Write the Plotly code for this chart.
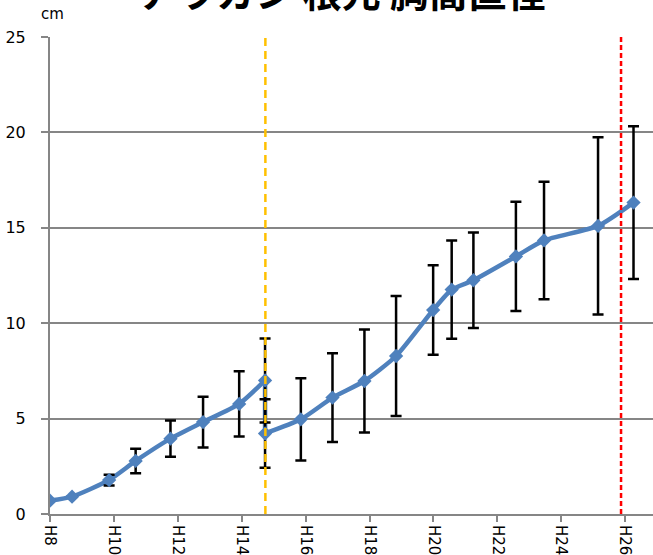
import plotly.graph_objects as go

# Measurement periods (Heisei year, fractional) and mean diameter (cm) with ± error
years = [8.00, 8.69, 9.85, 10.68, 11.77, 12.79, 13.92, 14.73, 14.73, 15.85, 16.84,
         17.84, 18.83, 19.99, 20.57, 21.25, 22.58, 23.46, 25.15, 26.26]
diameter = [0.70, 0.91, 1.78, 2.78, 3.95, 4.82, 5.77, 7.00, 4.22, 4.96, 6.10,
            6.97, 8.28, 10.69, 11.76, 12.25, 13.50, 14.34, 15.10, 16.32]
error = [0.0, 0.0, 0.28, 0.64, 0.95, 1.33, 1.71, 2.20, 1.79, 2.16, 2.33,
         2.70, 3.15, 2.35, 2.57, 2.50, 2.86, 3.08, 4.65, 4.00]

tick_years = [8, 10, 12, 14, 16, 18, 20, 22, 24, 26]
tick_labels = ["H" + str(y) for y in tick_years]

switch_year = 14.74   # change from root diameter to breast-height diameter
latest_year = 25.87
split = 8             # first breast-height measurement index

title_text = "アラカシ 根元 胸高直径"
unit_text = "cm"

BLUE = "#4F81BD"
line_style = dict(color=BLUE, width=4.5, shape="spline", smoothing=0.6)

fig = go.Figure()
# root-diameter period, smoothed
fig.add_trace(go.Scatter(x=years[:split], y=diameter[:split], mode="lines",
                         line=line_style, showlegend=False, hoverinfo="skip"))
# straight link between the two methods measured in the same period
fig.add_trace(go.Scatter(x=years[split - 1:split + 1], y=diameter[split - 1:split + 1],
                         mode="lines", line=dict(color=BLUE, width=4.5),
                         showlegend=False, hoverinfo="skip"))
# breast-height period, smoothed
fig.add_trace(go.Scatter(x=years[split:], y=diameter[split:], mode="lines",
                         line=line_style, showlegend=False, hoverinfo="skip"))
# markers with error bars
fig.add_trace(go.Scatter(
    x=years, y=diameter, mode="markers",
    marker=dict(symbol="diamond", size=11, color=BLUE),
    error_y=dict(type="data", array=error, visible=True,
                 color="black", thickness=2.5, width=5.5),
    showlegend=False,
))

fig.add_shape(type="line", xref="x", yref="paper", x0=switch_year, x1=switch_year,
              y0=0, y1=1, line=dict(color="#FFC000", width=2.5, dash="8px,5px"), layer="above")
fig.add_shape(type="line", xref="x", yref="paper", x0=latest_year, x1=latest_year,
              y0=0, y1=1, line=dict(color="#FF0000", width=2.5, dash="5px,3px"), layer="above")

fig.add_annotation(text=title_text, xref="paper", yref="paper", x=0.485, y=1.098,
                   xanchor="center", yanchor="middle", showarrow=False,
                   font=dict(family="Noto Sans CJK JP", size=39, color="black", weight="bold"))
fig.add_annotation(text=unit_text, xref="paper", yref="paper", x=-0.018, y=1.026,
                   xanchor="left", yanchor="bottom", showarrow=False,
                   font=dict(family="DejaVu Sans", size=15, color="black"))

fig.update_layout(
    width=653, height=555,
    margin=dict(l=50, r=0, t=37, b=41),
    paper_bgcolor="white", plot_bgcolor="white",
    font=dict(family="DejaVu Sans", color="black"),
)
fig.update_xaxes(
    range=[8, 26.87], tickvals=tick_years, ticktext=tick_labels, tickangle=90,
    showgrid=False, zeroline=False, showline=True, linecolor="#868686", linewidth=2,
    ticks="outside", ticklen=6, tickcolor="#868686", tickwidth=1.5,
    tickfont=dict(size=15, family="DejaVu Sans"),
)
fig.update_yaxes(
    range=[0, 25], tickvals=[0, 5, 10, 15, 20, 25],
    showgrid=True, gridcolor="#868686", gridwidth=2, zeroline=False,
    showline=True, linecolor="#868686", linewidth=2,
    ticks="outside", ticklen=7, tickcolor="#868686", tickwidth=1.5,
    ticklabelstandoff=12,
    tickfont=dict(size=16, family="DejaVu Sans"),
)

fig.write_html("out.html")
